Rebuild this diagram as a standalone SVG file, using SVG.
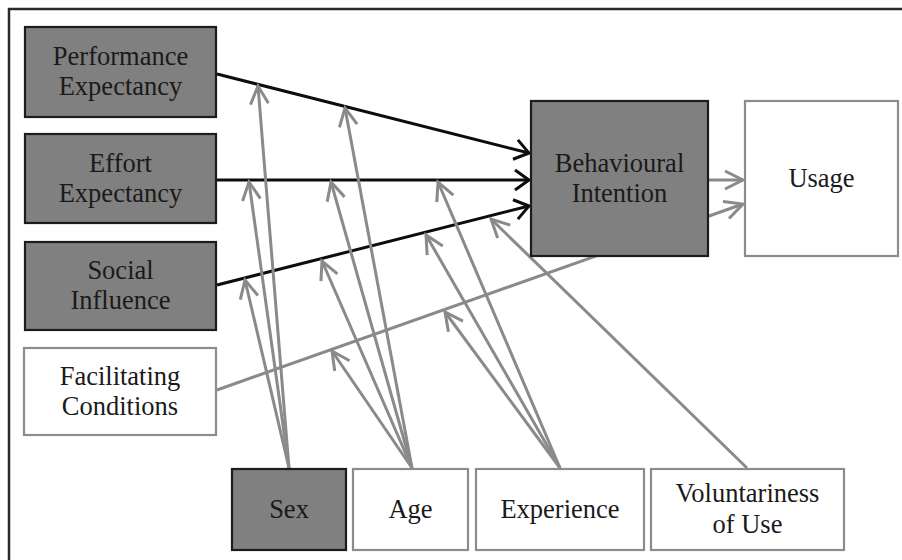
<svg xmlns="http://www.w3.org/2000/svg" width="902" height="560" viewBox="0 0 902 560">
<style>
.dark{fill:#808080;stroke:#1c1c1c;stroke-width:2.2}
.light{fill:#ffffff;stroke:#8c8c8c;stroke-width:2.2}
text{font-family:"Liberation Serif","Times New Roman",serif;font-size:26.5px;fill:#1a1a1a;text-anchor:middle}
.blk{stroke:#0d0d0d;stroke-width:3;fill:none}
.gry{stroke:#8a8a8a;stroke-width:3;fill:none}
</style>
<defs>
<marker id="mb" markerUnits="userSpaceOnUse" viewBox="-20 -14 24 28" markerWidth="24" markerHeight="28" refX="0" refY="0" orient="auto">
<path d="M-14,-10 L0,0 L-14,10" fill="none" stroke="#0d0d0d" stroke-width="3"/>
</marker>
<marker id="mg" markerUnits="userSpaceOnUse" viewBox="-22 -12 26 24" markerWidth="26" markerHeight="24" refX="0" refY="0" orient="auto">
<path d="M-18,-9 L0,0 L-18,9" fill="none" stroke="#8a8a8a" stroke-width="3"/>
</marker>
</defs>
<rect width="902" height="560" fill="#ffffff"/>
<path d="M9,560 L9,9 L902,9" fill="none" stroke="#2a2a2a" stroke-width="2.5"/>
<g id="connectors">
<line class="gry" x1="217" y1="390" x2="743" y2="204" marker-end="url(#mg)"/>
<line class="gry" x1="708" y1="180" x2="743" y2="180" marker-end="url(#mg)"/>
<line class="blk" x1="217" y1="74" x2="529" y2="153" marker-end="url(#mb)"/>
<line class="blk" x1="217" y1="180" x2="529" y2="180" marker-end="url(#mb)"/>
<line class="blk" x1="217" y1="285" x2="529" y2="206" marker-end="url(#mb)"/>
<line class="gry" x1="289" y1="468" x2="258" y2="86" marker-end="url(#mg)"/>
<line class="gry" x1="289" y1="468" x2="249" y2="182" marker-end="url(#mg)"/>
<line class="gry" x1="289" y1="468" x2="245" y2="280" marker-end="url(#mg)"/>
<line class="gry" x1="412" y1="468" x2="345" y2="108" marker-end="url(#mg)"/>
<line class="gry" x1="412" y1="468" x2="331" y2="182" marker-end="url(#mg)"/>
<line class="gry" x1="412" y1="468" x2="322" y2="261" marker-end="url(#mg)"/>
<line class="gry" x1="412" y1="468" x2="332" y2="351" marker-end="url(#mg)"/>
<line class="gry" x1="560" y1="468" x2="438" y2="182" marker-end="url(#mg)"/>
<line class="gry" x1="560" y1="468" x2="426" y2="235" marker-end="url(#mg)"/>
<line class="gry" x1="560" y1="468" x2="445" y2="312" marker-end="url(#mg)"/>
<line class="gry" x1="747" y1="468" x2="491" y2="219" marker-end="url(#mg)"/>
</g>
<g id="pe"><rect class="dark" x="25" y="27" width="191" height="90"/><text x="120.5" y="65">Performance</text><text x="120.5" y="95">Expectancy</text></g>
<g id="ee"><rect class="dark" x="25" y="134" width="191" height="89"/><text x="120.5" y="172">Effort</text><text x="120.5" y="202">Expectancy</text></g>
<g id="si"><rect class="dark" x="25" y="242" width="191" height="88"/><text x="120.5" y="279">Social</text><text x="120.5" y="309">Influence</text></g>
<g id="fc"><rect class="light" x="24" y="348" width="192" height="87"/><text x="120" y="385">Facilitating</text><text x="120" y="415">Conditions</text></g>
<g id="bi"><rect class="dark" x="531" y="101" width="177" height="155"/><text x="619.5" y="172">Behavioural</text><text x="619.5" y="202">Intention</text></g>
<g id="usage"><rect class="light" x="745" y="101" width="153" height="155"/><text x="821.5" y="187">Usage</text></g>
<g id="sex"><rect class="dark" x="232" y="469" width="114" height="81"/><text x="289" y="518">Sex</text></g>
<g id="age"><rect class="light" x="353" y="469" width="115" height="81"/><text x="410.5" y="518">Age</text></g>
<g id="experience"><rect class="light" x="476" y="469" width="168" height="81"/><text x="560" y="518">Experience</text></g>
<g id="voluntariness"><rect class="light" x="651" y="469" width="193" height="81"/><text x="747.5" y="502">Voluntariness</text><text x="747.5" y="533">of Use</text></g>
</svg>
